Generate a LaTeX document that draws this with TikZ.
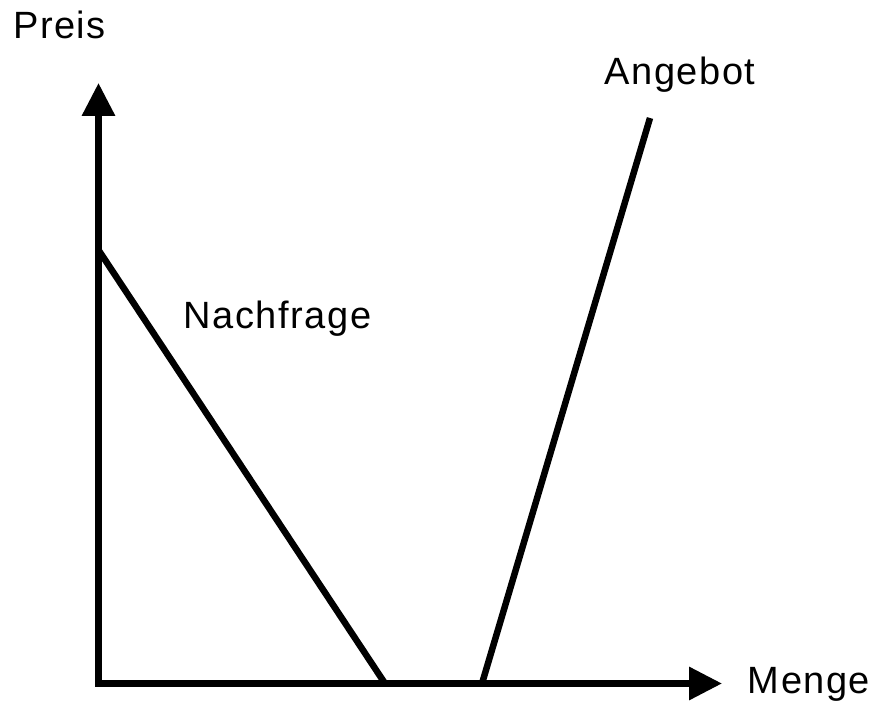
\documentclass[tikz,border=0pt]{standalone}
\usepackage{fontspec}
\setmainfont{Liberation Sans}[LetterSpace=4]
\usetikzlibrary{arrows.meta}
\begin{document}
\begin{tikzpicture}[x=1pt,y=-1pt,
  axis/.style={line width=6.5pt,-{Triangle[length=33pt,width=32pt]}},
  curve/.style={line width=6.5pt},
  lbl/.style={inner sep=0pt,anchor=base,font=\fontsize{38}{44}\selectfont}]
\useasboundingbox (0,0) rectangle (881,708);
\coordinate (O) at (98.5,683.5);
\coordinate (ytip) at (98.5,83);
\coordinate (xtip) at (722,683.5);
\coordinate (dtop) at (98.5,250);
\coordinate (dbot) at (385,683.5);
\coordinate (sbot) at (482,683.5);
\coordinate (stop) at (650,118);
\draw[curve] (dtop) -- (dbot);
\draw[curve] (sbot) -- (stop);
\draw[axis] ([yshift=3.25pt]O) -- (ytip);
\draw[axis] ([xshift=-3.25pt]O) -- (xtip);
\node[lbl] (preis) at (59.5,39) {Preis};
\node[lbl] (angebot) at (680,85) {Angebot};
\node[lbl] (nachfrage) at (277.5,329) {Nachfrage};
\node[lbl] (menge) at (809,693) {Menge};
\end{tikzpicture}
\end{document}
